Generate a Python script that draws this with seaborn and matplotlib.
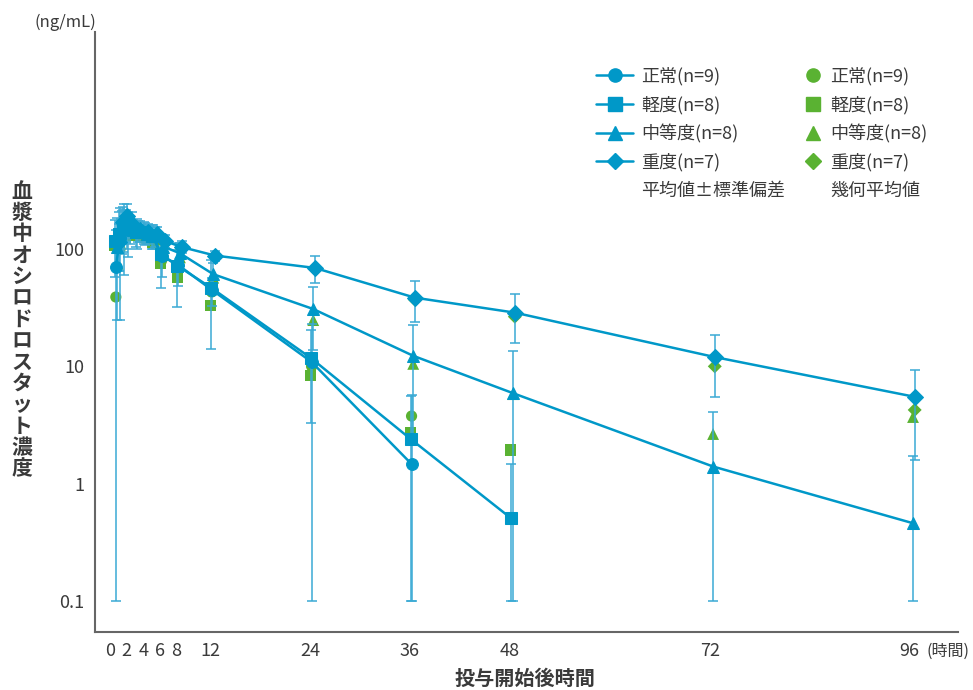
import numpy as np
import pandas as pd
import seaborn as sns
import matplotlib.pyplot as plt
from matplotlib.lines import Line2D

# sampling times (h)
times = [0.5, 1, 1.5, 2, 3, 4, 5, 6, 8, 12, 24, 36, 48, 72, 96]

groups = ["正常(n=9)", "軽度(n=8)", "中等度(n=8)", "重度(n=7)"]

# arithmetic mean (ng/mL)
mean_normal = [70, 125, 150, 145, 140, 138, 130, 88, 73, 45, 10.9, 1.47]
mean_mild = [118, 135, 155, 150, 140, 140, 130, 90, 72, 47, 11.8, 2.4, 0.51]
mean_moderate = [105, 150, 165, 150, 145, 135, 130, 105, 92, 61, 30.8, 12.3, 5.9, 1.40, 0.46]
mean_severe = [115, 170, 190, 165, 145, 140, 135, 117, 104, 88, 69, 38.5, 28.7, 12.0, 5.5]

# standard deviation
sd_normal = [75, 100, 90, 60, 40, 30, 30, 30, 25, 12, 12, 4.2]
sd_mild = [60, 70, 60, 50, 35, 30, 30, 43, 40, 33, 8.5, 3.2, 0.96]
sd_moderate = [80, 60, 50, 40, 30, 25, 25, 25, 20, 15, 17, 10, 7.6, 2.7, 1.27]
sd_severe = [50, 60, 50, 40, 30, 25, 20, 15, 12, 9, 18, 14.5, 12.8, 6.5, 3.9]

# geometric mean
gm_normal = [39, 100, 130, 130, 130, 125, 120, 80, 68, 43, 10, 3.77]
gm_mild = [108, 120, 140, 140, 130, 125, 115, 75, 57, 33, 8.4, 2.73, 1.94]
gm_moderate = [75, 130, 150, 140, 135, 125, 120, 95, 85, 57, 24.8, 10.5, 5.8, 2.65, 3.7]
gm_severe = [100, 160, 180, 160, 140, 135, 130, 112, 100, 86, 68, 37, 26.5, 10.0, 4.25]

xticks = [0, 2, 4, 6, 8, 12, 24, 36, 48, 72, 96]
yticks = [0.1, 1, 10, 100]
ytick_labels = ["0.1", "1", "10", "100"]

BLUE = "#0098c8"
BAR = "#3aaad4"
GREEN = "#5ab232"
TXT = "#3a3a3a"
FLOOR = 0.1

markers = {"正常(n=9)": "o", "軽度(n=8)": "s", "中等度(n=8)": "^", "重度(n=7)": "D"}
msize = {"正常(n=9)": 8.5, "軽度(n=8)": 8.5, "中等度(n=8)": 9, "重度(n=7)": 7.5}
dodge = {"正常(n=9)": 0.2, "軽度(n=8)": 0.1, "中等度(n=8)": 0.4, "重度(n=7)": 0.6}


def build_frame():
    rows = []
    series = [(mean_normal, sd_normal, gm_normal), (mean_mild, sd_mild, gm_mild),
              (mean_moderate, sd_moderate, gm_moderate), (mean_severe, sd_severe, gm_severe)]
    for g, (m, s, gm) in zip(groups, series):
        for i in range(len(m)):
            rows.append({"group": g, "time": times[i], "mean": m[i], "sd": s[i], "gmean": gm[i]})
    df = pd.DataFrame(rows)
    df["x"] = df["time"] + df["group"].map(dodge)
    df["lo"] = (df["mean"] - df["sd"]).where(df["mean"] - df["sd"] > FLOOR, FLOOR)
    df["hi"] = df["mean"] + df["sd"]
    return df


sns.set_theme(style="white")
plt.rcParams["font.family"] = ["Noto Sans CJK JP", "DejaVu Sans"]

df = build_frame()

fig = plt.figure(figsize=(9.73, 6.90), dpi=100)
ax = fig.add_axes([95 / 973, 58 / 690, 863 / 973, 600 / 690])

# geometric means (behind)
for g in groups:
    d = df[df["group"] == g]
    sns.scatterplot(x=d["x"], y=d["gmean"], marker=markers[g], color=GREEN, s=msize[g] ** 2 * 0.9,
                    edgecolor="none", ax=ax, zorder=2, legend=False)

# error bars
for g in groups:
    d = df[df["group"] == g]
    ax.errorbar(d["x"], d["mean"], yerr=[d["mean"] - d["lo"], d["hi"] - d["mean"]], fmt="none",
                ecolor=BAR, elinewidth=1.1, capsize=3.5, capthick=1.1, zorder=3)

# mean lines
sns.lineplot(data=df, x="x", y="mean", hue="group", style="group", palette=[BLUE] * 4,
             markers=markers, dashes=False, linewidth=1.8, markersize=8.5,
             markeredgecolor=BLUE, ax=ax, zorder=4, legend=False, sort=True, estimator=None)

ax.set_yscale("log")
ax.set_xlim(-1.8, 101.8)
ax.set_ylim(0.0544, 7080)
ax.set_xticks(xticks)
ax.set_xticklabels([str(t) for t in xticks])
ax.set_yticks(yticks)
ax.set_yticklabels(ytick_labels)
ax.minorticks_off()
ax.tick_params(axis="both", direction="out", length=5, width=1, color="#555555",
               labelsize=13, labelcolor=TXT, pad=3)
ax.tick_params(axis="x", pad=2)
for side in ["top", "right"]:
    ax.spines[side].set_visible(False)
for side in ["left", "bottom"]:
    ax.spines[side].set_color("#666666")
    ax.spines[side].set_linewidth(1.5)
ax.set_xlabel("")
ax.set_ylabel("")

# texts
fig.text(35 / 973, 1 - 22 / 690, "(ng/mL)", fontsize=12, color=TXT, va="center", ha="left")
fig.text(970 / 973, 1 - 651 / 690, "(時間)", fontsize=11.5, color=TXT, va="center", ha="right")
fig.text(525 / 973, 1 - 678 / 690, "投与開始後時間", fontsize=14.5, color=TXT, weight="bold",
         va="center", ha="center")
fig.text(22 / 973, 1 - 330 / 690, "\n".join("血漿中オシロドロスタット濃度"), fontsize=15, color=TXT,
         weight="bold", va="center", ha="center", linespacing=1.02)

# legends: mean +/- SD (left) and geometric mean (right)
h_mean = [Line2D([], [], color=BLUE, marker=markers[g], markersize=msize[g] + 1,
                 linewidth=1.8, markeredgecolor=BLUE) for g in groups]
h_gm = [Line2D([], [], color=GREEN, marker=markers[g], markersize=msize[g] + 1,
               linestyle="none", markeredgecolor=GREEN) for g in groups]
h_blank = Line2D([], [], alpha=0)

leg1 = ax.legend(h_mean + [h_blank], groups + ["平均値±標準偏差"], loc="upper left",
                 bbox_to_anchor=(580 / 973, 1 - 51 / 690), bbox_transform=fig.transFigure,
                 frameon=False, fontsize=13, handlelength=2.05, handletextpad=0.45,
                 labelspacing=0.55, labelcolor=TXT)
ax.add_artist(leg1)
ax.legend(h_gm + [h_blank], groups + ["幾何平均値"], loc="upper left",
          bbox_to_anchor=(788 / 973, 1 - 51 / 690), bbox_transform=fig.transFigure,
          frameon=False, fontsize=13, handlelength=1.0, handletextpad=0.45,
          labelspacing=0.55, labelcolor=TXT)

fig.savefig("out.png", dpi=100)
